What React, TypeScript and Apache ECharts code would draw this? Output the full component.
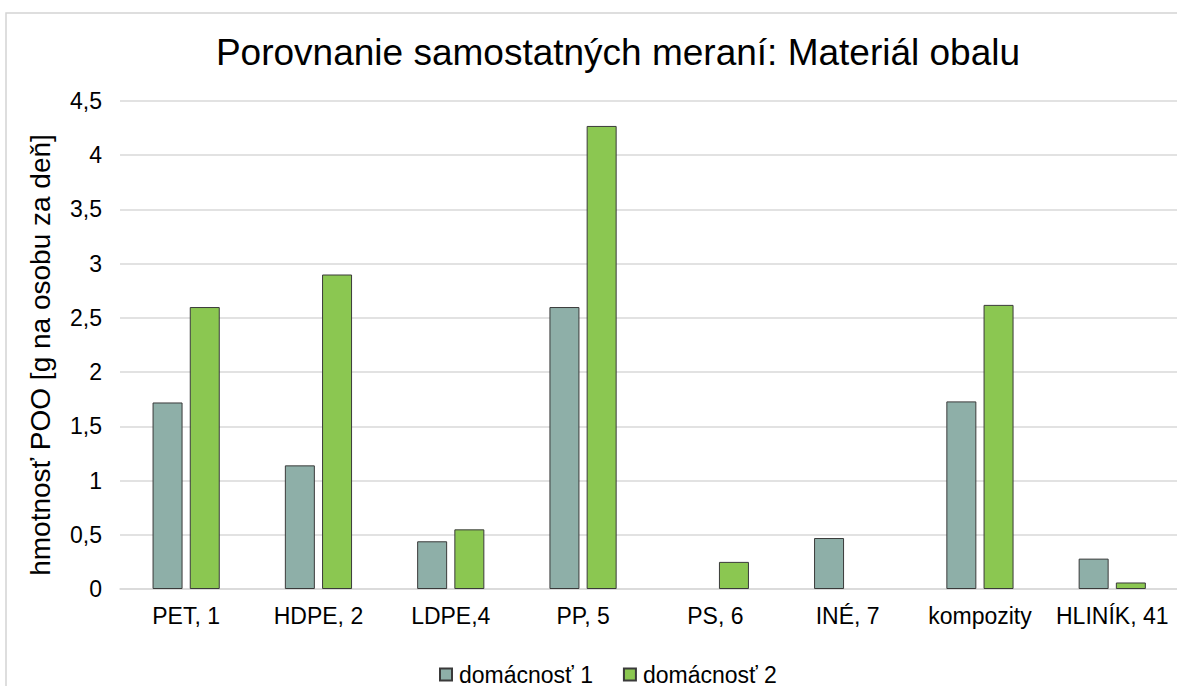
import { useEffect, useRef } from "react";
import * as echarts from "echarts";

const titleText = "Porovnanie samostatných meraní: Materiál obalu";
const yAxisName = "hmotnosť POO [g na osobu za deň]";
const categories = ["PET, 1", "HDPE, 2", "LDPE,4", "PP, 5", "PS, 6", "INÉ, 7", "kompozity", "HLINÍK, 41"];
const seriesNames = ["domácnosť 1", "domácnosť 2"];
const household1 = [1.72, 1.14, 0.44, 2.6, null, 0.47, 1.73, 0.28];
const household2 = [2.6, 2.9, 0.55, 4.27, 0.25, null, 2.62, 0.06];
const yMin = 0;
const yMax = 4.5;
const yStep = 0.5;

const FONT = "'Liberation Sans', Arial, sans-serif";

export default function App() {
  const ref = useRef<HTMLDivElement>(null);
  useEffect(() => {
    if (!ref.current) return;
    const chart = echarts.init(ref.current, undefined, { renderer: "svg" });
    chart.setOption({
      animation: false,
      backgroundColor: "#ffffff",
      textStyle: { fontFamily: FONT },
      title: {
        text: titleText,
        left: 613,
        textAlign: "center",
        top: 29,
        textStyle: { fontFamily: FONT, fontSize: 37, fontWeight: "normal", color: "#000000", lineHeight: 37 },
      },
      graphic: [
        {
          type: "rect",
          shape: { x: 6, y: 13, width: 1350, height: 900 },
          style: { fill: "none", stroke: "#d4d4d4", lineWidth: 1.5 },
          silent: true,
          z: -1,
        },
        {
          type: "text",
          x: 40,
          y: 355,
          rotation: Math.PI / 2,
          style: {
            text: yAxisName,
            fontFamily: FONT,
            fontSize: 28,
            fill: "#000000",
            align: "center",
            verticalAlign: "middle",
          },
        },
      ],
      legend: {
        data: seriesNames,
        left: 434,
        top: 658,
        icon: "rect",
        itemWidth: 12,
        itemHeight: 12,
        itemGap: 30,
        textStyle: { fontFamily: FONT, fontSize: 23, color: "#000000", lineHeight: 23, padding: [0, 0, 0, 2] },
      },
      grid: { left: 120, top: 101, width: 1058.4, height: 488, containLabel: false },
      xAxis: {
        type: "category",
        data: categories,
        axisTick: { show: false },
        axisLine: { show: true, lineStyle: { color: "#d9d9d9", width: 1.5 } },
        axisLabel: { fontFamily: FONT, fontSize: 23, color: "#000000", margin: 15, interval: 0 },
      },
      yAxis: {
        type: "value",
        min: yMin,
        max: yMax,
        interval: yStep,
        axisLine: { show: false },
        axisTick: { show: false },
        splitLine: { lineStyle: { color: "#d9d9d9", width: 1.5 } },
        axisLabel: {
          fontFamily: FONT,
          fontSize: 23,
          color: "#000000",
          margin: 18,
          formatter: (v: number) => String(v).replace(".", ","),
        },
      },
      series: [
        {
          name: seriesNames[0],
          type: "bar",
          data: household1,
          barWidth: 30,
          barGap: "24%",
          itemStyle: { color: "#8eafa8", borderColor: "#3a3a3a", borderWidth: 1 },
        },
        {
          name: seriesNames[1],
          type: "bar",
          data: household2,
          barWidth: 30,
          barGap: "24%",
          itemStyle: { color: "#8bc751", borderColor: "#3a3a3a", borderWidth: 1 },
        },
      ],
    });
    return () => chart.dispose();
  }, []);
  return (
    <div style={{ position: "fixed", left: 0, top: 0, width: 1177, height: 686, overflow: "hidden", background: "#fff" }}>
      <div ref={ref} style={{ width: 1400, height: 760 }} />
    </div>
  );
}
